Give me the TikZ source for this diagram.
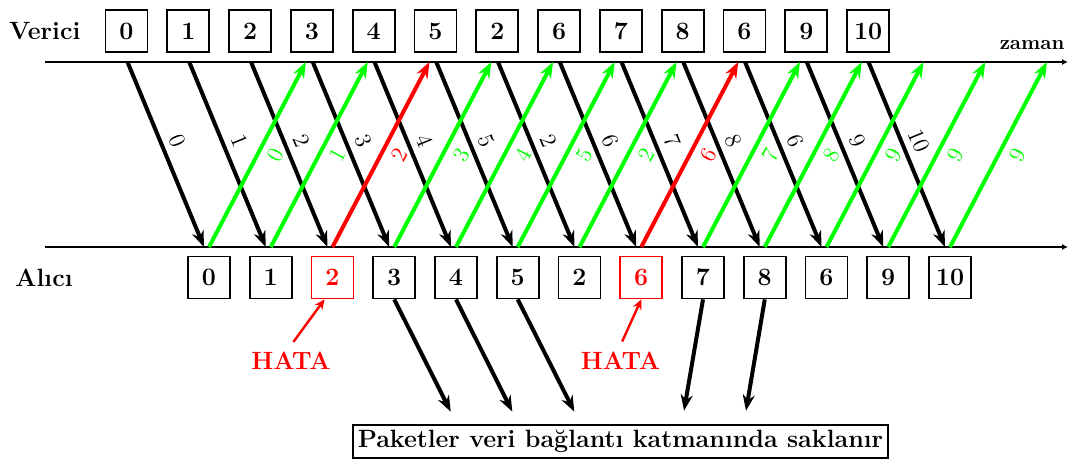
\documentclass[tikz,border=0pt]{standalone}
\usepackage{fontspec}
\usetikzlibrary{arrows.meta}
\definecolor{gr}{RGB}{0,255,0}
\definecolor{rd}{RGB}{255,0,0}
\newcommand{\bigbf}{\fontsize{12.5}{15}\selectfont\bfseries}
\begin{document}
\begin{tikzpicture}[x=0.5pt,y=-0.5pt,
  pbox/.style={draw, line width=0.9pt, minimum width=21pt, minimum height=21pt, inner sep=0pt, font=\bigbf},
  side/.style={font=\bigbf},
  tline/.style={line width=0.8pt, -{Latex[length=3pt,width=3pt]}},
  blk/.style={line width=2pt, -{Stealth[length=8pt,width=6pt]}},
  ack/.style={line width=2pt, -{Stealth[length=8pt,width=6pt]}},
  lbl/.style={font=\fontsize{11.5}{13}\selectfont, sloped},
  hata/.style={line width=1.2pt, rd, -{Stealth[length=5pt,width=4.5pt]}, shorten <=2pt},
  store/.style={line width=2pt, -{Stealth[length=8pt,width=6pt]}},
  note/.style={draw, line width=0.8pt, inner sep=2.5pt, font=\bigbf}
]
\useasboundingbox (0,0) rectangle (1068,459);

% time lines
\coordinate (tl) at (45,62);
\coordinate (tr) at (1068,62);
\coordinate (bl) at (45,247);
\coordinate (br) at (1068,247);
\draw[tline] (tl) -- (tr);
\draw[tline] (bl) -- (br);

\node[side] (verici) at (44.7,31) {Verici};
\node[side] (alici) at (44,278) {Alıcı};
\node[font=\bfseries] (zaman) at (1032,45.5) {zaman};

% sender boxes
\foreach \n [count=\i from 0] in {0,1,2,3,4,5,2,6,7,8,6,9,10} {
  \node[pbox] (t\i) at ({126.5+61.8*\i},31) {\n};
}
% receiver boxes
\foreach \n/\c [count=\i from 0] in {0/black,1/black,2/rd,3/black,4/black,5/black,2/black,6/rd,7/black,8/black,6/black,9/black,10/black} {
  \node[pbox,draw=\c,text=\c] (r\i) at ({209+61.75*\i},277.5) {\n};
}

% data frames
\foreach \n [count=\i from 0] in {0,1,2,3,4,5,2,6,7,8,6,9,10} {
  \coordinate (s\i) at ({127.5+61.75*\i},62);
  \coordinate (e\i) at ({204+61.75*\i},247);
  \draw[blk] (s\i) -- node[lbl,above,pos=0.46] {\n} (e\i);
}
% acknowledgements
\foreach \n/\c [count=\i from 0] in {0/gr,1/gr,2/rd,3/gr,4/gr,5/gr,2/gr,6/rd,7/gr,8/gr,9/gr,9/gr,9/gr} {
  \coordinate (u\i) at ({209+61.75*\i},247);
  \coordinate (v\i) at ({306+61.75*\i},62);
  \draw[ack,\c] (u\i) -- node[lbl,below,pos=0.54,text=\c] {\n} (v\i);
}

% errors
\node[font=\bigbf,text=rd] (h1) at (291,361) {HATA};
\node[font=\bigbf,text=rd] (h2) at (620.5,361) {HATA};
\draw[hata] (h1.north) -- ([xshift=-4pt]r2.south);
\draw[hata] (h2.north) -- (r7.south);

% stored frames
\node[note] (pk) at (620.5,441.5) {Paketler veri bağlantı katmanında saklanır};
\coordinate (d3) at (450.7,411.7);
\coordinate (d4) at (512.3,411.7);
\coordinate (d5) at (574.3,411.7);
\coordinate (d8) at (684,410.7);
\coordinate (d9) at (746,410.7);
\draw[store] (r3.south) -- (d3);
\draw[store] (r4.south) -- (d4);
\draw[store] (r5.south) -- (d5);
\draw[store] (r8.south) -- (d8);
\draw[store] (r9.south) -- (d9);
\end{tikzpicture}
\end{document}
